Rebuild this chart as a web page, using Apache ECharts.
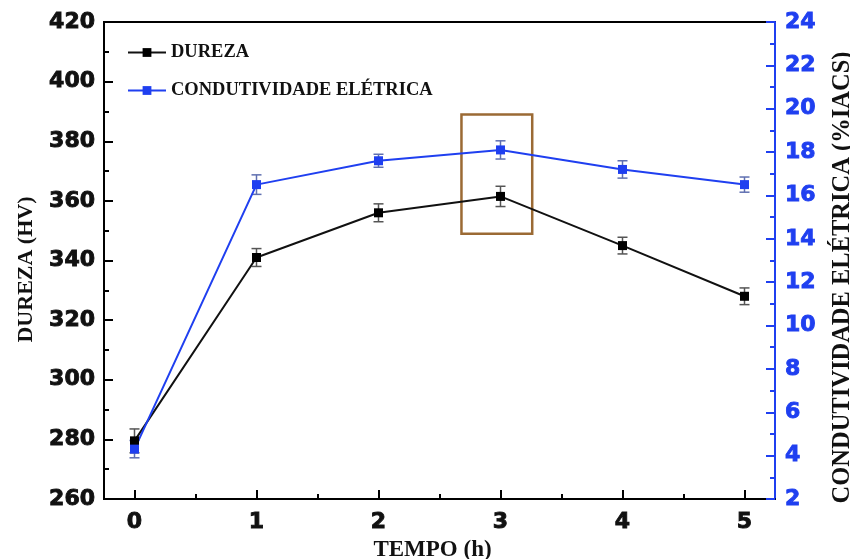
<!DOCTYPE html>
<html>
<head>
<meta charset="utf-8">
<script src="https://cdn.jsdelivr.net/npm/echarts@6/dist/echarts.min.js"></script>
<style>html,body{margin:0;padding:0;background:#fff}#c{width:850px;height:559px}</style>
</head>
<body>
<div id="c"></div>
<script>
const tempo = [0, 1, 2, 3, 4, 5];
const dureza = [279.5, 341, 356, 361.5, 345, 328];
const durezaErr = [4, 3, 3, 3.4, 2.8, 2.8];
const condutividade = [4.3, 16.5, 17.6, 18.1, 17.2, 16.5];
const condutividadeErr = [0.4, 0.45, 0.3, 0.42, 0.4, 0.35];
const xTicks = [0, 1, 2, 3, 4, 5];
const xMinorTicks = [0.5, 1.5, 2.5, 3.5, 4.5];
const highlightBox = [[2.68, 389], [3.26, 349]];

const BLUE = '#1f3ff0';
const BROWN = '#9b6a34';
const serif = '"Liberation Serif", "Times New Roman", serif';
const sans = '"DejaVu Sans", Arial, sans-serif';

function errData(vals, errs) {
  return tempo.map((t, i) => [t, vals[i] - errs[i], vals[i] + errs[i]]);
}
function errRender(color) {
  return function (params, api) {
    const lo = api.coord([api.value(0), api.value(1)]);
    const hi = api.coord([api.value(0), api.value(2)]);
    const w = 5;
    const st = { stroke: color, lineWidth: 1.5 };
    return {
      type: 'group',
      children: [
        { type: 'line', shape: { x1: lo[0], y1: lo[1], x2: hi[0], y2: hi[1] }, style: st },
        { type: 'line', shape: { x1: lo[0] - w, y1: lo[1], x2: lo[0] + w, y2: lo[1] }, style: st },
        { type: 'line', shape: { x1: hi[0] - w, y1: hi[1], x2: hi[0] + w, y2: hi[1] }, style: st }
      ]
    };
  };
}

const blackLabel = { fontFamily: sans, fontWeight: 'bold', fontSize: 22, color: '#111', textBorderColor: '#111', textBorderWidth: 0.9 };
const blueLabel = { fontFamily: sans, fontWeight: 'bold', fontSize: 22, color: BLUE, textBorderColor: BLUE, textBorderWidth: 0.9 };

const chart = echarts.init(document.getElementById('c'));
chart.setOption({
  animation: false,
  backgroundColor: '#fff',
  grid: { left: 104, right: 75, top: 22, bottom: 60, show: true, borderColor: '#000', borderWidth: 2,
          containLabel: false, outerBoundsMode: 'none' },
  legend: {
    orient: 'vertical', left: 122, top: 38,
    itemWidth: 38, itemHeight: 11, itemGap: 19,
    textStyle: { fontFamily: serif, fontWeight: 'bold', fontSize: 18.5, color: '#111' },
    data: ['DUREZA', 'CONDUTIVIDADE ELÉTRICA']
  },
  xAxis: [{
    type: 'value', min: -0.25, max: 5.25,
    name: 'TEMPO (h)', nameLocation: 'middle', nameGap: 34,
    nameTextStyle: { fontFamily: serif, fontWeight: 'bold', fontSize: 23, color: '#111', padding: [0, 14, 0, 0] },
    axisLine: { onZero: false, lineStyle: { color: '#000', width: 2 } },
    axisTick: { inside: true, length: 9, lineStyle: { width: 2, color: '#000' }, customValues: xTicks },
    axisLabel: Object.assign({ margin: 12, customValues: xTicks }, blackLabel),
    splitLine: { show: false }
  }, {
    type: 'value', min: -0.25, max: 5.25, position: 'bottom',
    axisLine: { show: false, onZero: false },
    axisTick: { inside: true, length: 5, lineStyle: { width: 2, color: '#000' }, customValues: xMinorTicks },
    axisLabel: { show: false },
    splitLine: { show: false }
  }],
  yAxis: [{
    type: 'value', min: 260, max: 420, interval: 20, position: 'left',
    name: 'DUREZA (HV)', nameLocation: 'middle', nameGap: 66, nameRotate: 90,
    nameTextStyle: { fontFamily: serif, fontWeight: 'bold', fontSize: 22, color: '#111', padding: [0, 18, 0, 0] },
    axisLine: { show: true, onZero: false, lineStyle: { color: '#000', width: 2 } },
    axisTick: { inside: true, length: 9, lineStyle: { width: 2 } },
    minorTick: { show: true, splitNumber: 2, length: 5, lineStyle: { width: 2, color: '#000' } },
    axisLabel: Object.assign({ margin: 9 }, blackLabel),
    splitLine: { show: false }
  }, {
    type: 'value', min: 2, max: 24, interval: 2, position: 'right',
    name: 'CONDUTIVIDADE ELÉTRICA (%IACS)', nameLocation: 'middle', nameGap: 55, nameRotate: 90,
    nameTextStyle: { fontFamily: serif, fontWeight: 'bold', fontSize: 24.5, color: '#111', padding: [0, 34, 0, 0] },
    axisLine: { show: true, onZero: false, lineStyle: { color: BLUE, width: 2 } },
    axisTick: { inside: true, length: 9, lineStyle: { width: 2, color: BLUE } },
    minorTick: { show: true, splitNumber: 2, length: 5, lineStyle: { width: 2, color: BLUE } },
    axisLabel: Object.assign({ margin: 10 }, blueLabel),
    splitLine: { show: false }
  }],
  series: [{
    name: 'DUREZA', type: 'line', yAxisIndex: 0, z: 3,
    data: tempo.map((t, i) => [t, dureza[i]]),
    symbol: 'rect', symbolSize: 9,
    lineStyle: { color: '#111', width: 2 }, itemStyle: { color: '#000' },
    markArea: {
      silent: true,
      itemStyle: { color: 'rgba(0,0,0,0)', borderColor: BROWN, borderWidth: 2.5 },
      data: [[{ coord: highlightBox[0] }, { coord: highlightBox[1] }]]
    }
  }, {
    name: 'CONDUTIVIDADE ELÉTRICA', type: 'line', yAxisIndex: 1, z: 3,
    data: tempo.map((t, i) => [t, condutividade[i]]),
    symbol: 'rect', symbolSize: 9,
    lineStyle: { color: BLUE, width: 2 }, itemStyle: { color: BLUE }
  }, {
    type: 'custom', yAxisIndex: 0, z: 2, silent: true,
    data: errData(dureza, durezaErr), renderItem: errRender('#555')
  }, {
    type: 'custom', yAxisIndex: 1, z: 2, silent: true,
    data: errData(condutividade, condutividadeErr), renderItem: errRender('#5f6fb0')
  }]
});
</script>
</body>
</html>
